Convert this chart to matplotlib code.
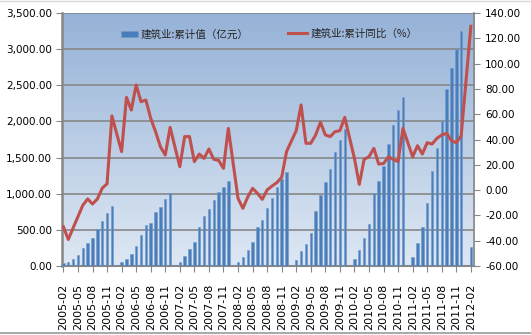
import numpy as np
import matplotlib
matplotlib.use('Agg')
import matplotlib.pyplot as plt
from matplotlib.lines import Line2D

# 建筑业 累计值 (亿元), Feb-Dec each year (Jan is combined with Feb)
val_2005 = [35, 60, 100, 148, 253, 323, 387, 507, 627, 728, 834]
val_2006 = [50, 99, 163, 272, 429, 562, 599, 742, 820, 927, 1005]
val_2007 = [60, 138, 230, 337, 544, 692, 793, 913, 1019, 1088, 1180]
val_2008 = [50, 129, 228, 337, 535, 640, 797, 945, 1090, 1198, 1298]
val_2009 = [80, 207, 302, 456, 760, 988, 1160, 1337, 1576, 1742, 1890]
val_2010 = [92, 221, 383, 578, 1005, 1175, 1383, 1687, 1950, 2157, 2333]
val_2011 = [129, 323, 535, 867, 1309, 1627, 2005, 2452, 2734, 3006, 3245]
val_2012 = [265]

# 建筑业 累计同比 (%)
yoy_2005 = [-29, -39, -30, -21, -12, -7, -11, -7, 1.5, 5, 58.6]
yoy_2006 = [30.4, 73.3, 63.3, 83.1, 69.9, 71.2, 56.8, 46.2, 34.3, 27.7, 49.6]
yoy_2007 = [18.5, 42.3, 42.3, 22.5, 28.5, 25.1, 32.5, 24.3, 23.5, 17.2, 48.8]
yoy_2008 = [-6.5, -14.4, -5.5, 1.4, -2.5, -7.3, 0.1, 3.2, 5.9, 10.1, 30.4]
yoy_2009 = [47.0, 67.3, 37.0, 37.0, 43.6, 53.6, 43.6, 42.3, 46.2, 47.0, 57.5]
yoy_2010 = [25.0, 4.5, 24.3, 26.4, 33.0, 20.6, 21.0, 26.4, 24.3, 22.5, 48.8]
yoy_2011 = [26.4, 35.1, 28.5, 37.5, 36.4, 40.9, 43.6, 44.9, 39.1, 37.5, 42.8]
yoy_2012 = [129.5]

years = [2005, 2006, 2007, 2008, 2009, 2010, 2011, 2012]
val_by_year = [val_2005, val_2006, val_2007, val_2008, val_2009, val_2010, val_2011, val_2012]
yoy_by_year = [yoy_2005, yoy_2006, yoy_2007, yoy_2008, yoy_2009, yoy_2010, yoy_2011, yoy_2012]

# build the monthly category axis 2005-02 .. 2012-02, January left empty
labels, values, yoy = [], [], []
for y, vals, pct in zip(years, val_by_year, yoy_by_year):
    if y != 2005:
        labels.append('%d-01' % y)
        values.append(np.nan)
        yoy.append(np.nan)
    for k in range(len(vals)):
        labels.append('%d-%02d' % (y, k + 2))
        values.append(vals[k])
        yoy.append(pct[k])

x = np.arange(len(labels))
values = np.array(values, dtype=float)
yoy = np.array(yoy, dtype=float)
ok = ~np.isnan(yoy)

fig = plt.figure(figsize=(5.31, 3.35), dpi=100)
pos = [61.7 / 531, 69 / 335, 412.3 / 531, 253 / 335]

# gradient background of the plot area
bg = fig.add_axes(pos, zorder=0)
grad = np.linspace(0, 1, 256).reshape(-1, 1)
top = np.array([149, 178, 215]) / 255
bot = np.array([222, 232, 244]) / 255
img = top[None, None, :] * (1 - grad[:, :, None]) + bot[None, None, :] * grad[:, :, None]
bg.imshow(img, aspect='auto', extent=[0, 1, 0, 1])
bg.set_axis_off()

ax = fig.add_axes(pos, zorder=1)
ax.patch.set_alpha(0)
ax.bar(x, values, width=0.5, color='#4a7ebb', edgecolor='#7099cc', linewidth=0.4,
       label='建筑业:累计值（亿元）', zorder=3)
ax.set_xlim(-0.35, len(labels) - 0.35)
ax.set_ylim(0, 3500)
ax.set_yticks(np.arange(0, 3501, 500))
ax.set_yticklabels(['{:,.2f}'.format(v) for v in np.arange(0, 3501, 500)],
                   fontfamily='Liberation Sans Narrow', fontsize=7.5)
ax.yaxis.grid(True, color='#878787', linewidth=1.2)
ax.set_axisbelow(True)
ax.set_xticks(x[::3])
ax.set_xticklabels(labels[::3], rotation=90, fontsize=8, fontfamily='DejaVu Sans')
ax.tick_params(axis='x', length=4, color='#878787', pad=9)
ax.tick_params(axis='y', length=4, color='#878787', pad=3)
for s in ['top', 'right']:
    ax.spines[s].set_visible(False)
ax.spines['left'].set_color('#878787')
ax.spines['left'].set_linewidth(1.8)
ax.spines['bottom'].set_color('#878787')
ax.spines['bottom'].set_linewidth(1.5)

ax2 = ax.twinx()
ax2.plot(x[ok], yoy[ok], color='#c0504d', linewidth=2.2, label='建筑业:累计同比（%）', zorder=4)
ax2.set_ylim(-60, 140)
ax2.set_yticks(np.arange(-60, 141, 20))
ax2.set_yticklabels(['%.2f' % v for v in np.arange(-60, 141, 20)],
                    fontfamily='Liberation Sans Narrow', fontsize=7.5)
ax2.tick_params(axis='y', length=4, color='#878787', pad=4)
for s in ['top', 'left', 'bottom']:
    ax2.spines[s].set_visible(False)
ax2.spines['right'].set_color('#878787')
ax2.spines['right'].set_linewidth(1.2)

cjk = ['Noto Sans CJK SC', 'DejaVu Sans']
leg1 = ax.legend(loc='center left', bbox_to_anchor=(0.1438, 0.915), frameon=False,
                 borderaxespad=0, borderpad=0, handlelength=1.6, handleheight=0.6,
                 handletextpad=0.3, prop={'family': cjk, 'size': 7.6})
leg2 = ax2.legend(loc='center left', bbox_to_anchor=(0.549, 0.917), frameon=False,
                  borderaxespad=0, borderpad=0, handlelength=1.8,
                  handletextpad=0.3, prop={'family': cjk, 'size': 7.6})
for t in leg1.get_texts() + leg2.get_texts():
    t.set_color('#262626')

# thin frame lines of the chart area
fig.add_artist(Line2D([0, 1], [0.997, 0.997], color='#d9d9d9', linewidth=1.0))
fig.add_artist(Line2D([0, 1], [0.006, 0.006], color='#9a9a9a', linewidth=1.2))

fig.savefig('out.png', dpi=100)
